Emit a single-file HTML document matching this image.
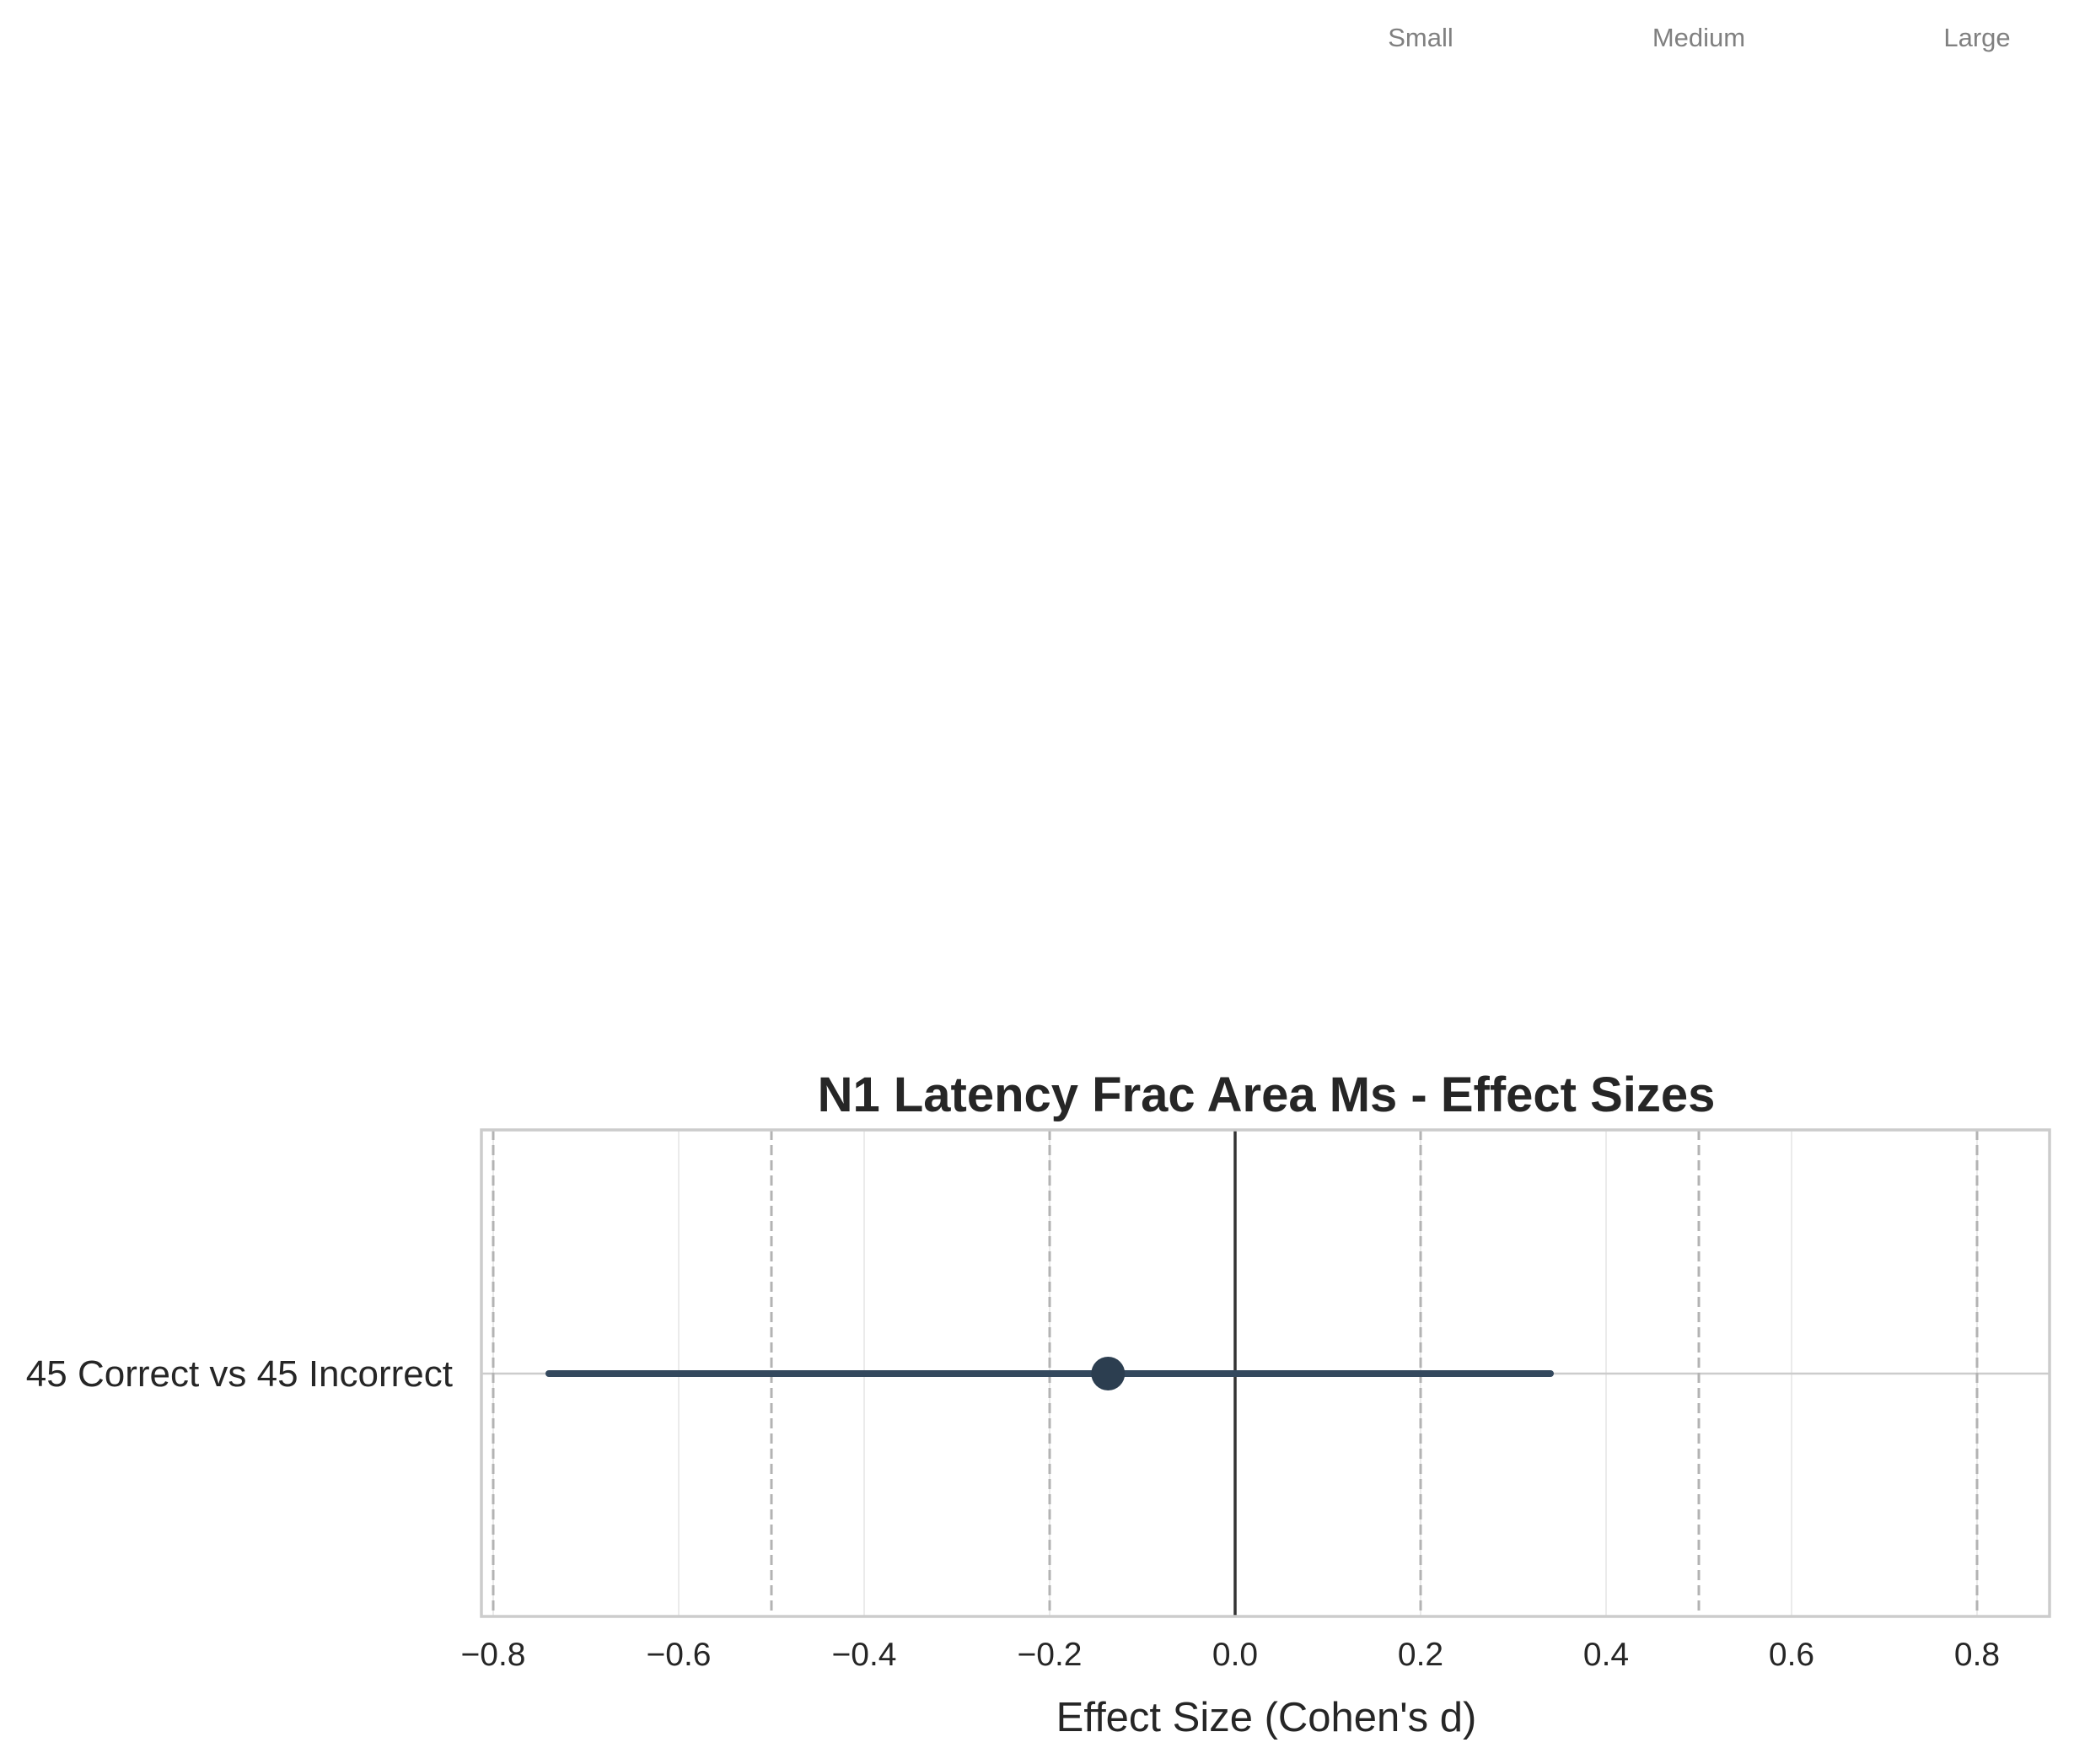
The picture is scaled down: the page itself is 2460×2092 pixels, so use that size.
<!DOCTYPE html>
<html><head><meta charset="utf-8"><style>
body{margin:0;background:#fff;}
svg text{font-family:"Liberation Sans",Arial,sans-serif;}
</style></head><body>
<svg width="2460" height="2087" viewBox="0 0 2460 2087">
<g id="plot"></g>
</svg>
<script>
const categories = ["45 Correct vs 45 Incorrect"];
const effectValues = [-0.137];
const ciLower = [-0.74];
const ciUpper = [0.34];
const xTicks = [-0.8,-0.6,-0.4,-0.2,0.0,0.2,0.4,0.6,0.8];
const xTickLabels = ["\u22120.8","\u22120.6","\u22120.4","\u22120.2","0.0","0.2","0.4","0.6","0.8"];
const thresholds = [0.2,0.5,0.8];
const thresholdLabels = ["Small","Medium","Large"];

const NS="http://www.w3.org/2000/svg";
const g=document.getElementById('plot');
const L=571,R=2431,T=1340,B=1917;
const x0=1465,ppu=1100;
function xs(v){return x0+v*ppu;}
function ys(i){return 1629+(i-(categories.length-1)/2)*((B-T)/categories.length);}
function mk(tag,attrs,parent){const e=document.createElementNS(NS,tag);for(const k in attrs)e.setAttribute(k,attrs[k]);(parent||g).appendChild(e);return e;}

xTicks.forEach(v=>{
  const l=mk('line',{x1:xs(v),x2:xs(v),y1:T,y2:B,stroke:'#ebebeb','stroke-width':2});
  
  
});
categories.forEach((c,i)=>{
  const l=mk('line',{x1:L,x2:R,y1:ys(i),y2:ys(i),stroke:'#cccccc','stroke-width':2.5});
  
  
});
thresholds.forEach(t=>{
  [t,-t].forEach(v=>{
    const l=mk('line',{x1:xs(v),x2:xs(v),y1:T,y2:B,stroke:'#b3b3b3','stroke-width':3,'stroke-dasharray':'12,6'});
    
    
  });
});
thresholds.forEach((t,i)=>{
  const tx=mk('text',{x:xs(t),y:55,'text-anchor':'middle','font-size':31,fill:'#808080'});
  tx.textContent=thresholdLabels[i];
  
  
});
const z=mk('line',{x1:xs(0),x2:xs(0),y1:T,y2:B,stroke:'#333333','stroke-width':3.5});


categories.forEach((c,i)=>{
  const y=ys(i);
  const ci=mk('line',{x1:xs(ciLower[i]),x2:xs(ciUpper[i]),y1:y,y2:y,stroke:'#34495e','stroke-width':8,'stroke-linecap':'round'});
  
  
  const p=mk('circle',{cx:xs(effectValues[i]),cy:y,r:20,fill:'#2c3e50'});
  
  
  const lb=mk('text',{x:537,y:y+15,'text-anchor':'end','font-size':44,fill:'#262626'});
  lb.textContent=c;
  
  
});
const f=mk('rect',{x:L,y:T,width:R-L,height:B-T,fill:'none',stroke:'#cccccc','stroke-width':3.5});


xTicks.forEach((v,i)=>{
  const t=mk('text',{x:xs(v),y:1975,'text-anchor':'middle','font-size':39,fill:'#262626'});
  t.textContent=xTickLabels[i];
  
  
});
const xl=mk('text',{x:1502,y:2053,'text-anchor':'middle','font-size':49,fill:'#262626'});
xl.textContent="Effect Size (Cohen's d)";


const tt=mk('text',{x:1502,y:1318,'text-anchor':'middle','font-size':58,'font-weight':'bold',fill:'#262626'});
tt.textContent="N1 Latency Frac Area Ms - Effect Sizes";


</script>
</body></html>
